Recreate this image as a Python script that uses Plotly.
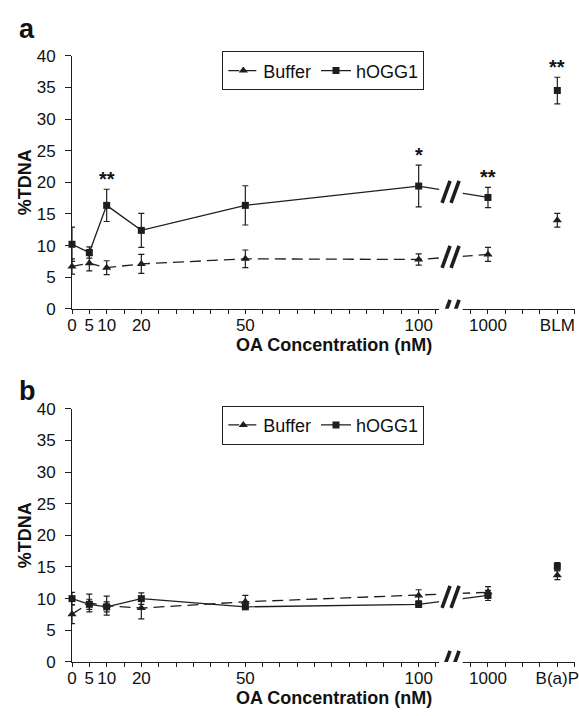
import plotly.graph_objects as go

# ---------------- data ----------------
conc = [0, 5, 10, 20, 50, 100]
extra_a = ["1000", "BLM"]
extra_b = ["1000", "B(a)P"]

# Panel a (values at 0..100 nM, then 1000 nM)
a_buffer = [6.7, 7.2, 6.5, 7.1, 7.9, 7.8, 8.6]
a_buffer_err = [1.2, 1.2, 1.1, 1.5, 1.4, 0.9, 1.1]
a_buffer_ctrl = 14.0
a_buffer_ctrl_err = 1.1
a_hogg = [10.2, 8.9, 16.35, 12.4, 16.35, 19.4, 17.6]
a_hogg_err = [2.7, 0.9, 2.55, 2.7, 3.1, 3.3, 1.6]
a_hogg_ctrl = 34.5
a_hogg_ctrl_err = 2.1
a_sig = {"10": "**", "100": "*", "1000": "**", "BLM": "**"}

# Panel b
b_buffer = [7.55, 9.3, 8.9, 8.5, 9.5, 10.5, 11.0]
b_buffer_err = [1.5, 1.4, 1.5, 1.7, 1.0, 0.9, 0.9]
b_buffer_ctrl = 13.7
b_buffer_ctrl_err = 0.7
b_hogg = [10.0, 9.1, 8.7, 10.0, 8.7, 9.1, 10.5]
b_hogg_err = [1.0, 0.8, 0.8, 0.9, 0.4, 0.5, 0.8]
b_hogg_ctrl = 15.1
b_hogg_ctrl_err = 0.6

yticks = [0, 5, 10, 15, 20, 25, 30, 35, 40]

# ---------------- layout constants ----------------
EXTRA_X = [120, 140]      # axis positions used for categories after the break
BREAK_X = 109.2           # centre of the axis break
GAP = (105.9, 112.7)      # blank region of the break
INK = "#1e1e1e"
FONT = "Liberation Sans, Arial, sans-serif"
W, H = 579, 716
L = 72
dom_a = [1 - 308 / H, 1 - 48 / H]
dom_b = [1 - 670.7 / H, 1 - 410.7 / H]

fig = go.Figure()


def add_panel(xa, ya, legend, buf, buf_e, buf_c, buf_ce, hog, hog_e, hog_c, hog_ce):
    xs = conc + [EXTRA_X[0]]
    err_style = dict(type="data", thickness=1.2, width=3, color=INK)
    fig.add_trace(go.Scatter(
        x=xs, y=buf, name="Buffer", mode="lines+markers", xaxis=xa, yaxis=ya,
        legend=legend, cliponaxis=False,
        line=dict(color=INK, width=1.3, dash="11px,6px"),
        marker=dict(symbol="triangle-up", size=8, color=INK),
        error_y=dict(array=buf_e, **err_style)))
    fig.add_trace(go.Scatter(
        x=[EXTRA_X[1]], y=[buf_c], name="Buffer", mode="markers", xaxis=xa, yaxis=ya,
        legend=legend, showlegend=False, cliponaxis=False,
        marker=dict(symbol="triangle-up", size=8, color=INK),
        error_y=dict(array=[buf_ce], **err_style)))
    fig.add_trace(go.Scatter(
        x=xs, y=hog, name="hOGG1", mode="lines+markers", xaxis=xa, yaxis=ya,
        legend=legend, cliponaxis=False,
        line=dict(color=INK, width=1.3),
        marker=dict(symbol="square", size=7, color=INK),
        error_y=dict(array=hog_e, **err_style)))
    fig.add_trace(go.Scatter(
        x=[EXTRA_X[1]], y=[hog_c], name="hOGG1", mode="markers", xaxis=xa, yaxis=ya,
        legend=legend, showlegend=False, cliponaxis=False,
        marker=dict(symbol="square", size=7, color=INK),
        error_y=dict(array=[hog_ce], **err_style)))


add_panel("x", "y", "legend", a_buffer, a_buffer_err, a_buffer_ctrl, a_buffer_ctrl_err,
          a_hogg, a_hogg_err, a_hogg_ctrl, a_hogg_ctrl_err)
add_panel("x2", "y2", "legend2", b_buffer, b_buffer_err, b_buffer_ctrl, b_buffer_ctrl_err,
          b_hogg, b_hogg_err, b_hogg_ctrl, b_hogg_ctrl_err)


def xaxis_def(labels, anchor):
    return dict(
        range=[0, 145.1], anchor=anchor, domain=[0, 1],
        tickvals=conc + EXTRA_X, ticktext=[str(c) for c in conc] + labels,
        ticks="outside", ticklen=4, tickwidth=1, tickcolor=INK,
        minor=dict(tick0=0, dtick=5, ticks="outside", ticklen=4, tickwidth=1, tickcolor=INK),
        showline=True, linecolor=INK, linewidth=1, showgrid=False, zeroline=False,
        tickfont=dict(family=FONT, size=17, color="#111"), ticklabelstandoff=-3,
        ticklabeloverflow="allow", fixedrange=True)


def yaxis_def(domain, anchor):
    return dict(
        range=[0, 40], domain=domain, anchor=anchor,
        tickvals=yticks, ticks="outside", ticklen=6, tickwidth=1, tickcolor=INK,
        showline=True, linecolor=INK, linewidth=1, showgrid=False, zeroline=False,
        tickfont=dict(family=FONT, size=17, color="#111"), ticklabelstandoff=6,
        fixedrange=True)


legend_style = dict(
    orientation="h", xanchor="left", yanchor="top",
    bordercolor="#222", borderwidth=1, bgcolor="white",
    font=dict(family=FONT, size=18, color="#111"),
    itemwidth=30, tracegroupgap=0, itemclick=False,
)

shapes = []
annotations = []


def add_break(xref, yref, line_vals):
    shapes.append(dict(type="rect", xref=xref, yref=yref + " domain", layer="above",
                       x0=GAP[0], x1=GAP[1], y0=-0.05, y1=1.0,
                       fillcolor="white", line=dict(width=0)))
    for v, yshift in line_vals:
        for off in (-4.5, 4.5):
            shapes.append(dict(type="line", layer="above", xref=xref, yref=yref,
                               xsizemode="pixel", ysizemode="pixel",
                               xanchor=BREAK_X, yanchor=v,
                               x0=off - 4, x1=off + 4, y0=-11 + yshift, y1=11 + yshift,
                               line=dict(color=INK, width=3.6)))


# panel a breaks: each line plus the axis
add_break("x", "y", [((a_hogg[5] + a_hogg[6]) / 2, 0),
                     ((a_buffer[5] + a_buffer[6]) / 2, 0),
                     (0, -2)])
# panel b breaks: one for both lines plus the axis
add_break("x2", "y2", [((b_hogg[5] + b_hogg[6] + b_buffer[5] + b_buffer[6]) / 4, 0),
                       (0, 0)])

# significance marks (panel a, on hOGG1)
pos_of = {str(c): c for c in conc}
pos_of.update({extra_a[0]: EXTRA_X[0], extra_a[1]: EXTRA_X[1]})
hog_all = a_hogg + [a_hogg_ctrl]
hog_err_all = a_hogg_err + [a_hogg_ctrl_err]
labels_all = [str(c) for c in conc] + extra_a
for lab, txt in a_sig.items():
    i = labels_all.index(lab)
    annotations.append(dict(x=pos_of[lab], y=hog_all[i] + hog_err_all[i], xref="x", yref="y",
                            text="<b>%s</b>" % txt, showarrow=False, yanchor="bottom", yshift=-3,
                            font=dict(family=FONT, size=20, color="#111")))

# axis titles and panel letters
for ydom, letter, lift in ((dom_a, "a", 27), (dom_b, "b", 18)):
    annotations.append(dict(x=(24.5 - L) / (W - L), y=(ydom[0] + ydom[1]) / 2,
                            xref="paper", yref="paper", text="<b>%TDNA</b>", textangle=-90,
                            showarrow=False, xanchor="center", yanchor="middle",
                            font=dict(family=FONT, size=18, color="#111")))
    annotations.append(dict(x=(336 - L) / (W - L), y=ydom[0] - 37 / H,
                            xref="paper", yref="paper", text="<b>OA Concentration (nM)</b>",
                            showarrow=False, xanchor="center", yanchor="middle",
                            font=dict(family=FONT, size=18, color="#111")))
    annotations.append(dict(x=(17 - L) / (W - L), y=ydom[1] + lift / H,
                            xref="paper", yref="paper", text="<b>%s</b>" % letter,
                            showarrow=False, xanchor="left", yanchor="middle",
                            font=dict(family=FONT, size=27, color="#111")))

fig.update_layout(
    width=W, height=H, margin=dict(l=L, r=0, t=0, b=0),
    paper_bgcolor="white", plot_bgcolor="white",
    xaxis=xaxis_def(extra_a, "y"), yaxis=yaxis_def(dom_a, "x"),
    xaxis2=xaxis_def(extra_b, "y2"), yaxis2=yaxis_def(dom_b, "x2"),
    legend=dict(x=(223.5 - L) / (W - L), y=1 - 43.5 / H, **legend_style),
    legend2=dict(x=(223.5 - L) / (W - L), y=1 - 407.5 / H, **legend_style),
    shapes=shapes, annotations=annotations,
    font=dict(family=FONT, color="#111"),
)

fig.write_html("out.html", config={"displayModeBar": False},
               post_script="document.body.style.margin='0';document.body.style.overflow='hidden';")
